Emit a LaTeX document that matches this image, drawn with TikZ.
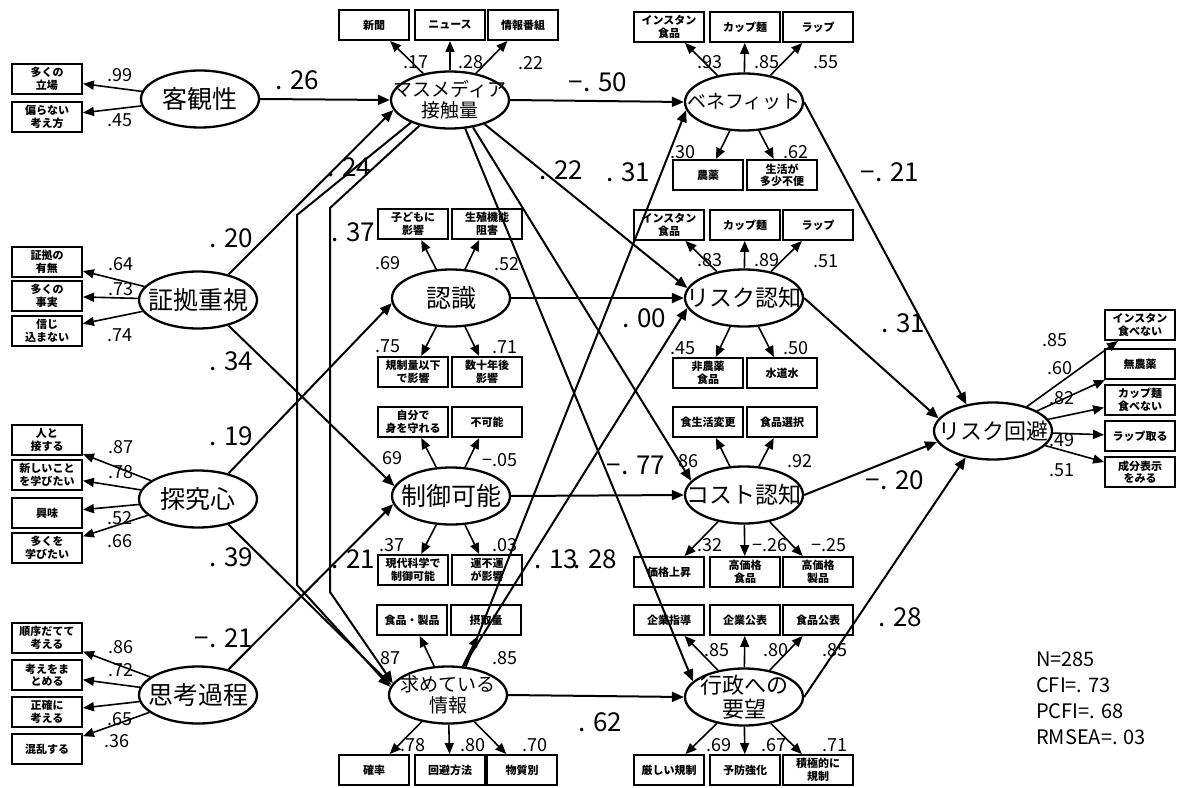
\documentclass[tikz,border=0pt]{standalone}
\usepackage{fontspec}
\setmainfont{Noto Sans CJK JP}
\usetikzlibrary{arrows.meta,shapes.geometric}

\begin{document}
\begin{tikzpicture}[x=1pt, y=-1pt,
  lat/.style={ellipse, draw=black, line width=2.3pt, minimum width=118pt, minimum height=57pt,
    inner xsep=-22pt, inner ysep=-10pt, align=center, font=\fontsize{25}{27}\selectfont},
  lat2/.style={lat, font=\fontsize{19}{21}\selectfont},
  obs/.style={rectangle, draw=black, line width=1.9pt, minimum width=70pt, minimum height=30pt,
    inner sep=0pt, align=center, font=\bfseries\fontsize{11}{12.5}\selectfont},
  sp/.style={-{Triangle[length=12pt,width=10pt]}, line width=2pt},
  ind/.style={-{Triangle[length=11pt,width=9pt]}, line width=1.6pt},
  coef/.style={font=\fontsize{26}{26}\selectfont, inner sep=0pt},
  ld/.style={font=\fontsize{18}{18}\selectfont, inner sep=0pt},
]
\useasboundingbox (0,0) rectangle (1182,787);

% latent variables
\node[lat] (kk) at (200,99)  {客観性};
\node[lat] (sk) at (198,300) {証拠重視};
\node[lat] (tq) at (198,499) {探究心};
\node[lat] (sh) at (198,695) {思考過程};
\node[lat2] (mm) at (450,100) {マスメディア\\接触量};
\node[lat] (ns) at (451,298) {認識};
\node[lat] (sg) at (451,496) {制御可能};
\node[lat2] (mt) at (448,695) {求めている\\情報};
\node[lat, font=\fontsize{19}{21}\selectfont] (bn) at (744,102) {ベネフィット};
\node[lat, font=\fontsize{23}{25}\selectfont] (rn) at (744,298) {リスク認知};
\node[lat, font=\fontsize{23}{25}\selectfont] (cs) at (744,495) {コスト認知};
\node[lat, font=\fontsize{22}{24}\selectfont] (gy) at (744,697) {行政への\\要望};
\node[lat, font=\fontsize{22}{24}\selectfont] (rk) at (993,431) {リスク回避};

% observed variables
\node[obs] (kk1) at (47,79)  {多くの\\立場};
\node[obs] (kk2) at (47,117) {偏らない\\考え方};
\node[obs] (sk1) at (47,262) {証拠の\\有無};
\node[obs] (sk2) at (47,296) {多くの\\事実};
\node[obs] (sk3) at (47,331) {信じ\\込まない};
\node[obs] (tq1) at (47,440) {人と\\接する};
\node[obs] (tq2) at (47,475) {新しいこと\\を学びたい};
\node[obs] (tq3) at (47,513) {興味};
\node[obs] (tq4) at (47,548) {多くを\\学びたい};
\node[obs] (sh1) at (47,638) {順序だてて\\考える};
\node[obs] (sh2) at (47,675) {考えをま\\とめる};
\node[obs] (sh3) at (47,712) {正確に\\考える};
\node[obs] (sh4) at (47,749) {混乱する};

\node[obs] (mm1) at (374,25) {新聞};
\node[obs] (mm2) at (450,25) {ニュース};
\node[obs] (mm3) at (523,25) {情報番組};
\node[obs] (ns1) at (413,224) {子どもに\\影響};
\node[obs] (ns2) at (487,224) {生殖機能\\阻害};
\node[obs] (ns3) at (413,372) {規制量以下\\で影響};
\node[obs] (ns4) at (487,372) {数十年後\\影響};
\node[obs] (sg1) at (413,422) {自分で\\身を守れる};
\node[obs] (sg2) at (487,422) {不可能};
\node[obs] (sg3) at (413,570) {現代科学で\\制御可能};
\node[obs] (sg4) at (487,570) {運不運\\が影響};
\node[obs] (mt1) at (412,620) {食品・製品};
\node[obs] (mt2) at (486,620) {摂取量};
\node[obs] (mt3) at (374,770) {確率};
\node[obs] (mt4) at (450,770) {回避方法};
\node[obs] (mt5) at (522,770) {物質別};

\node[obs] (bn1) at (669,27)  {インスタン\\食品};
\node[obs] (bn2) at (745,27)  {カップ麺};
\node[obs] (bn3) at (818,27)  {ラップ};
\node[obs] (bn4) at (708,175) {農薬};
\node[obs] (bn5) at (782,175) {生活が\\多少不便};
\node[obs] (rn1) at (669,225) {インスタン\\食品};
\node[obs] (rn2) at (745,225) {カップ麺};
\node[obs] (rn3) at (818,225) {ラップ};
\node[obs] (rn4) at (708,373) {非農薬\\食品};
\node[obs] (rn5) at (782,373) {水道水};
\node[obs] (cs1) at (708,422) {食生活変更};
\node[obs] (cs2) at (782,422) {食品選択};
\node[obs] (cs3) at (669,572) {価格上昇};
\node[obs] (cs4) at (745,572) {高価格\\食品};
\node[obs] (cs5) at (818,572) {高価格\\製品};
\node[obs] (gy1) at (669,620) {企業指導};
\node[obs] (gy2) at (745,620) {企業公表};
\node[obs] (gy3) at (818,620) {食品公表};
\node[obs] (gy4) at (669,770) {厳しい規制};
\node[obs] (gy5) at (745,770) {予防強化};
\node[obs] (gy6) at (818,770) {積極的に\\規制};

\node[obs] (rk1) at (1140,325) {インスタン\\食べない};
\node[obs] (rk2) at (1140,364) {無農薬};
\node[obs] (rk3) at (1140,400) {カップ麺\\食べない};
\node[obs] (rk4) at (1140,436) {ラップ取る};
\node[obs] (rk5) at (1140,472) {成分表示\\をみる};

% measurement arrows
\foreach \f/\t in {kk/kk1,kk/kk2,sk/sk1,sk/sk2,sk/sk3,tq/tq1,tq/tq2,tq/tq3,tq/tq4,
  sh/sh1,sh/sh2,sh/sh3,sh/sh4,mm/mm1,mm/mm2,mm/mm3,ns/ns1,ns/ns2,ns/ns3,ns/ns4,
  sg/sg1,sg/sg2,sg/sg3,sg/sg4,mt/mt1,mt/mt2,mt/mt3,mt/mt4,mt/mt5,
  bn/bn1,bn/bn2,bn/bn3,bn/bn4,bn/bn5,rn/rn1,rn/rn2,rn/rn3,rn/rn4,rn/rn5,
  cs/cs1,cs/cs2,cs/cs3,cs/cs4,cs/cs5,gy/gy1,gy/gy2,gy/gy3,gy/gy4,gy/gy5,gy/gy6,
  rk/rk1,rk/rk2,rk/rk3,rk/rk4,rk/rk5}
  \draw[ind] (\f) -- (\t);

% bends of the two long paths
\coordinate (p1a) at (330,208);
\coordinate (p1b) at (330,592);
\coordinate (p2a) at (297,215);
\coordinate (p2b) at (297,585);

% structural paths
\draw[sp] (kk.east) -- (mm.west);
\draw[sp] (sk.40) -- (mm.-170);
\draw[sp] (sk.-40) -- (sg.170);
\draw[sp] (tq.40) -- (ns.185);
\draw[sp] (tq.-40) -- (mt.170);
\draw[sp] (sh.40) -- (sg.188);
\draw[sp] (mm.-140) -- (p1a) -- (p1b) -- (mt.168);
\draw[sp] (mm.-150) -- (p2a) -- (p2b) -- (mt.172);
\draw[sp] (mm.east) -- (bn.west);
\draw[sp] (mm.-35) -- (rn.170);
\draw[sp] (mm.-50) -- (cs.165);
\draw[sp] (mm.-62) -- (gy.163);
\draw[sp] (ns.east) -- (rn.west);
\draw[sp] (sg.east) -- (cs.west);
\draw[sp] (mt.east) -- (gy.west);
\draw[sp] (mt.58) -- (bn.-172);
\draw[sp] (mt.62) -- (rn.190);
\draw[sp] (bn.east) -- (rk.135);
\draw[sp] (rn.east) -- (rk.167);
\draw[sp] (cs.east) -- (rk.191);
\draw[sp] (gy.east) -- (rk.-136);

% path coefficients
\node[coef] (c1)  at (297,80)  {. 26};
\node[coef] (c2)  at (231,238) {. 20};
\node[coef] (c3)  at (231,361) {. 34};
\node[coef] (c4)  at (231,436) {. 19};
\node[coef] (c5)  at (231,557) {. 39};
\node[coef] (c6)  at (224,638) {−. 21};
\node[coef] (c7)  at (349,167) {. 24};
\node[coef] (c8)  at (353,232) {. 37};
\node[coef] (c9)  at (353,559) {. 21};
\node[coef] (c10) at (598,82)  {−. 50};
\node[coef] (c11) at (561,170) {. 22};
\node[coef] (c12) at (628,172) {. 31};
\node[coef] (c13) at (644,318) {. 00};
\node[coef] (c14) at (636,465) {−. 77};
\node[coef] (c15) at (556,559) {. 13};
\node[coef] (c16) at (595,559) {. 28};
\node[coef] (c17) at (600,722) {. 62};
\node[coef] (c18) at (890,172) {−. 21};
\node[coef] (c19) at (903,323) {. 31};
\node[coef] (c20) at (895,480) {−. 20};
\node[coef] (c21) at (900,617) {. 28};

% loadings
\node[ld] (l1)  at (120,75)  {.99};
\node[ld] (l2)  at (120,120) {.45};
\node[ld] (l3)  at (121,264) {.64};
\node[ld] (l4)  at (121,289) {.73};
\node[ld] (l5)  at (120,335) {.74};
\node[ld] (l6)  at (121,447) {.87};
\node[ld] (l7)  at (121,472) {.78};
\node[ld] (l8)  at (120,518) {.52};
\node[ld] (l9)  at (120,541) {.66};
\node[ld] (l10) at (121,647) {.86};
\node[ld] (l11) at (121,670) {.72};
\node[ld] (l12) at (120,719) {.65};
\node[ld] (l13) at (117,741) {.36};
\node[ld] (l14) at (416,62)  {.17};
\node[ld] (l15) at (471,62)  {.28};
\node[ld] (l16) at (531,63)  {.22};
\node[ld] (l17) at (388,263) {.69};
\node[ld] (l18) at (507,264) {.52};
\node[ld] (l19) at (388,346) {.75};
\node[ld] (l20) at (505,347) {.71};
\node[ld] (l21) at (392,458) {69};
\node[ld] (l22) at (500,460) {−.05};
\node[ld] (l23) at (392,545) {.37};
\node[ld] (l24) at (505,545) {.03};
\node[ld] (l25) at (390,658) {87};
\node[ld] (l26) at (505,658) {.85};
\node[ld] (l27) at (413,745) {.78};
\node[ld] (l28) at (473,745) {.80};
\node[ld] (l29) at (535,745) {.70};
\node[ld] (l30) at (710,62)  {.93};
\node[ld] (l31) at (767,62)  {.85};
\node[ld] (l32) at (826,62)  {.55};
\node[ld] (l33) at (683,152) {.30};
\node[ld] (l34) at (796,152) {.62};
\node[ld] (l35) at (710,260) {.83};
\node[ld] (l36) at (767,260) {.89};
\node[ld] (l37) at (826,261) {.51};
\node[ld] (l38) at (683,348) {.45};
\node[ld] (l39) at (796,348) {.50};
\node[ld] (l40) at (688,461) {86};
\node[ld] (l41) at (800,461) {.92};
\node[ld] (l42) at (710,545) {.32};
\node[ld] (l43) at (770,545) {−.26};
\node[ld] (l44) at (829,545) {−.25};
\node[ld] (l45) at (717,650) {.85};
\node[ld] (l46) at (776,650) {.80};
\node[ld] (l47) at (835,650) {.85};
\node[ld] (l48) at (719,745) {.69};
\node[ld] (l49) at (774,745) {.67};
\node[ld] (l50) at (835,745) {.71};
\node[ld] (l51) at (1055,340) {.85};
\node[ld] (l52) at (1060,368) {.60};
\node[ld] (l53) at (1062,398) {.82};
\node[ld] (l54) at (1062,440) {.49};
\node[ld] (l55) at (1062,470) {.51};

% fit indices
\node[anchor=north west, align=left, inner sep=0pt, font=\fontsize{20}{26}\selectfont]
  (stats) at (1036,652) {N=285\\CFI=. 73\\PCFI=. 68\\RMSEA=. 03};
\end{tikzpicture}
\end{document}
